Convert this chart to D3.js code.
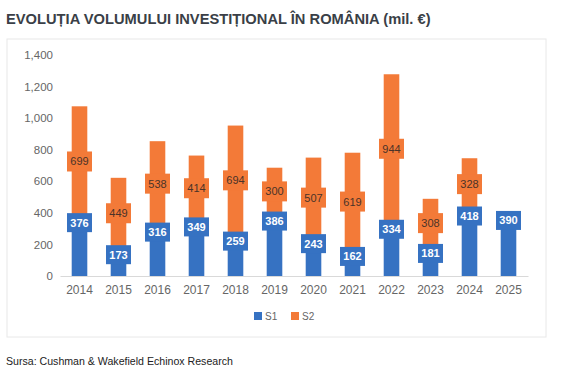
<!DOCTYPE html>
<html>
<head>
<meta charset="utf-8">
<script src="https://cdn.jsdelivr.net/npm/d3@7"></script>
<style>
  body { margin: 0; background: #fff; }
  text { font-family: "Liberation Sans", Arial, sans-serif; }
</style>
</head>
<body>
<svg id="chart" width="563" height="370"></svg>
<script>
var years = ["2014", "2015", "2016", "2017", "2018", "2019", "2020", "2021", "2022", "2023", "2024", "2025"];
var s1Values = [376, 173, 316, 349, 259, 386, 243, 162, 334, 181, 418, 390];
var s2Values = [699, 449, 538, 414, 694, 300, 507, 619, 944, 308, 328, null];
var yTicks = [0, 200, 400, 600, 800, 1000, 1200, 1400];
var seriesNames = ["S1", "S2"];

var blue = "#3672c2",
  orange = "#f37a38";

var svg = d3.select("#chart");

// frame + title
svg.append("rect")
  .attr("x", 7).attr("y", 39)
  .attr("width", 539).attr("height", 298)
  .attr("fill", "none")
  .attr("stroke", "#e8e8e8");

svg.append("text")
  .attr("x", 6).attr("y", 24)
  .attr("font-size", "14.7px")
  .attr("font-weight", "bold")
  .attr("fill", "#3a3f47")
  .text("EVOLUȚIA VOLUMULUI INVESTIȚIONAL ÎN ROMÂNIA (mil. €)");

svg.append("text")
  .attr("x", 6).attr("y", 365)
  .attr("font-size", "10.6px")
  .attr("fill", "#222")
  .text("Sursa: Cushman & Wakefield Echinox Research");

// scales
var x = d3.scaleBand()
  .domain(years)
  .range([60, 528])
  .paddingInner(0.6)
  .paddingOuter(0.3);

var y = d3.scaleLinear()
  .domain([0, 1400])
  .range([276, 55]);

// y axis (labels only)
var yAxis = d3.axisLeft(y)
  .tickValues(yTicks)
  .tickFormat(d3.format(","))
  .tickSize(0)
  .tickPadding(0);

var yG = svg.append("g")
  .attr("transform", "translate(53,0)")
  .call(yAxis);
yG.select(".domain").remove();
yG.selectAll("text")
  .attr("font-size", "11.5px")
  .attr("fill", "#666")
  .attr("font-family", "Liberation Sans, Arial, sans-serif");

// x axis
var xAxis = d3.axisBottom(x).tickSize(0).tickPadding(9);
var xG = svg.append("g")
  .attr("transform", "translate(0,276)")
  .call(xAxis);
xG.select(".domain").attr("stroke", "#d9d9d9");
xG.selectAll("text")
  .attr("font-size", "12px")
  .attr("fill", "#666")
  .attr("font-family", "Liberation Sans, Arial, sans-serif");

var rows = years.map(function(yr, i) {
  return { year: yr, s1: s1Values[i], s2: s2Values[i] };
});

// S1 bars
svg.append("g").selectAll("rect")
  .data(rows)
  .join("rect")
  .attr("x", function(d) { return x(d.year); })
  .attr("width", x.bandwidth())
  .attr("y", function(d) { return y(d.s1); })
  .attr("height", function(d) { return y(0) - y(d.s1); })
  .attr("fill", blue);

// S2 bars stacked on top
var s2Rows = rows.filter(function(d) { return d.s2 != null; });
svg.append("g").selectAll("rect")
  .data(s2Rows)
  .join("rect")
  .attr("x", function(d) { return x(d.year); })
  .attr("width", x.bandwidth())
  .attr("y", function(d) { return y(d.s1 + d.s2); })
  .attr("height", function(d) { return y(d.s1) - y(d.s1 + d.s2); })
  .attr("fill", orange);

var boxW = 25, boxH = 19;

// S2 labels, centered in segment
var s2Lab = svg.append("g").selectAll("g")
  .data(s2Rows)
  .join("g")
  .attr("transform", function(d) {
    var cx = x(d.year) + x.bandwidth() / 2;
    var cy = (y(d.s1) + y(d.s1 + d.s2)) / 2;
    return "translate(" + cx + "," + cy + ")";
  });
s2Lab.append("rect")
  .attr("x", -boxW / 2).attr("y", -boxH / 2 - 0.5)
  .attr("width", boxW).attr("height", boxH + 1)
  .attr("fill", orange);
s2Lab.append("text")
  .attr("text-anchor", "middle")
  .attr("dy", "0.36em")
  .attr("font-size", "11px")
  .attr("fill", "#4a3328")
  .text(function(d) { return d.s2; });

// S1 labels, inside end
var s1Lab = svg.append("g").selectAll("g")
  .data(rows)
  .join("g")
  .attr("transform", function(d) {
    var cx = x(d.year) + x.bandwidth() / 2;
    var cy = y(d.s1) + 6;
    return "translate(" + cx + "," + cy + ")";
  });
s1Lab.append("rect")
  .attr("x", -boxW / 2).attr("y", -boxH / 2)
  .attr("width", boxW).attr("height", boxH)
  .attr("fill", blue);
s1Lab.append("text")
  .attr("text-anchor", "middle")
  .attr("dy", "0.36em")
  .attr("font-size", "11px")
  .attr("font-weight", "bold")
  .attr("fill", "#fff")
  .text(function(d) { return d.s1; });

// legend
var legend = svg.append("g").selectAll("g")
  .data(seriesNames)
  .join("g")
  .attr("transform", function(d, i) { return "translate(" + (254 + i * 37) + ",312)"; });
legend.append("rect")
  .attr("width", 8).attr("height", 8)
  .attr("fill", function(d, i) { return i === 0 ? blue : orange; });
legend.append("text")
  .attr("x", 11).attr("y", 8)
  .attr("font-size", "10px")
  .attr("fill", "#666")
  .text(function(d) { return d; });
</script>
</body>
</html>
